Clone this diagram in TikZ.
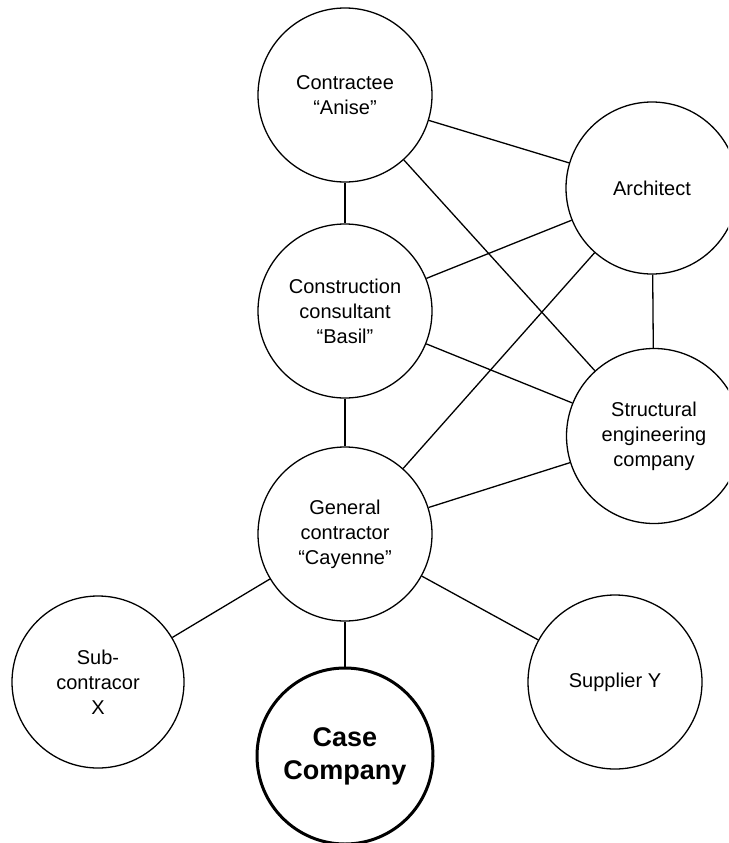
\documentclass[tikz,border=0pt]{standalone}
\usepackage{fontspec}
\setmainfont{Liberation Sans}
\begin{document}
\begin{tikzpicture}[x=1pt,y=-1pt,
  actor/.style={circle,draw,line width=1.3pt,minimum size=174pt,inner sep=0pt,align=center,
    font=\fontsize{20}{25}\selectfont},
  casebox/.style={circle,draw,line width=3pt,minimum size=176pt,inner sep=0pt,align=center,
    font=\fontsize{27}{33}\selectfont\bfseries},
  link/.style={line width=1.3pt}]
\useasboundingbox (0,0) rectangle (728,843);
\clip (0,0) rectangle (728,843);
\node[actor] (anise) at (345,95) {Contractee\\“Anise”};
\node[actor,minimum size=172pt] (arch) at (652,188) {Architect};
\node[actor] (basil) at (345,311) {Construction\\consultant\\“Basil”};
\node[actor,minimum size=175pt] (struct) at (654,436) {Structural\\engineering\\company};
\node[actor] (cay) at (345,534) {General\\contractor\\“Cayenne”};
\node[actor,minimum size=172pt] (sub) at (98,682) {Sub-\\contracor\\X};
\node[actor] (supp) at (615,682) {Supplier Y};
\node[casebox] (case) at (345,756) {Case\\Company};
\draw[link] (anise) -- (arch);
\draw[link] (anise) -- (struct);
\draw[link] (anise) -- (basil);
\draw[link] (arch) -- (basil);
\draw[link] (arch) -- (struct);
\draw[link] (arch) -- (cay);
\draw[link] (basil) -- (struct);
\draw[link] (basil) -- (cay);
\draw[link] (struct) -- (cay);
\draw[link] (cay) -- (sub);
\draw[link] (cay) -- (case);
\draw[link] (cay) -- (supp);
\end{tikzpicture}
\end{document}
